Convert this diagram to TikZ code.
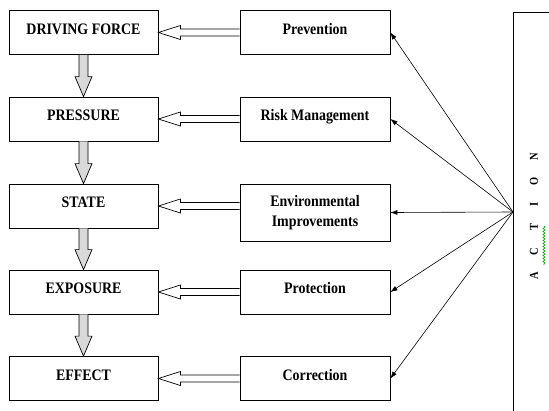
\documentclass[tikz,border=0pt]{standalone}
\usepackage{fontspec}
\setmainfont[FakeStretch=0.87]{Liberation Serif}
\usetikzlibrary{calc,arrows.meta,decorations.pathmorphing}

\tikzset{
  box/.style={draw, line width=0.8pt, inner sep=0pt, align=center,
    font=\bfseries\fontsize{16}{20}\selectfont, text height=11pt, text depth=8pt},
  leftbox/.style={box, minimum width=149pt, minimum height=44pt},
  rightbox/.style={box, minimum width=150pt, minimum height=44pt},
  hollow/.style={fill=white, line width=0.7pt,
    to path={($(\tikztostart)+(0,-3.5)$) -- ($(\tikztotarget)+(22,-3.5)$) -- ($(\tikztotarget)+(22,-7)$)
      -- (\tikztotarget) -- ($(\tikztotarget)+(22,7)$) -- ($(\tikztotarget)+(22,3.5)$) -- ($(\tikztostart)+(0,3.5)$)}},
  varrow/.style={fill=black!15, line width=0.7pt,
    to path={($(\tikztostart)+(-4.5,0)$) -- ($(\tikztotarget)+(-4.5,-20)$) -- ($(\tikztotarget)+(-8.5,-20)$)
      -- (\tikztotarget) -- ($(\tikztotarget)+(8.5,-20)$) -- ($(\tikztotarget)+(4.5,-20)$) -- ($(\tikztostart)+(4.5,0)$)}},
  act/.style={-{Latex[length=7pt,width=5pt]}, line width=0.6pt}
}
\newcommand{\actgap}{\hspace{17pt}}

\begin{document}
\begin{tikzpicture}[x=1pt,y=-1pt]

\clip (0,0) rectangle (549,410);

% left column
\node[leftbox] (drive) at (83.5,32.5) {DRIVING FORCE};
\node[leftbox] (press) at (83.5,119) {PRESSURE};
\node[leftbox] (state) at (83.5,206) {STATE};
\node[leftbox] (expo) at (83.5,292) {EXPOSURE};
\node[leftbox] (effect) at (83.5,378.5) {EFFECT};

% right column
\node[rightbox] (prev) at (315,32.5) {Prevention};
\node[rightbox] (risk) at (315,119) {Risk Management};
\node[rightbox, minimum height=57pt, text height=, text depth=] (env) at (315,212.5) {Environmental\\Improvements};
\node[rightbox] (prot) at (315,292) {Protection};
\node[rightbox] (corr) at (315,378.5) {Correction};

% action box
\draw[line width=0.8pt] (560,12) -- (513,12) -- (513,420);
\coordinate (hub) at (513,212);
\node[rotate=90, font=\bfseries\fontsize{12}{14}\selectfont] (action) at (534,216.5)
  {A\actgap C\actgap T\actgap I\actgap O\actgap N};
\draw[green!60!black, line width=0.6pt, decorate,
  decoration={snake, amplitude=1.1pt, segment length=3pt}] (544,226) -- (544,265);

\foreach \a/\b in {drive/press,press/state,state/expo,expo/effect}
  \draw[varrow] (\a.south) to (\b.north);

\coordinate (envin) at (env.west |- state.east);
\draw[hollow] (prev.west) to (drive.east);
\draw[hollow] (risk.west) to (press.east);
\draw[hollow] (envin) to (state.east);
\draw[hollow] (prot.west) to (expo.east);
\draw[hollow] (corr.west) to (effect.east);

\foreach \b in {prev,risk,env,prot,corr}
  \draw[act] (hub) -- (\b.east);

\end{tikzpicture}
\end{document}
